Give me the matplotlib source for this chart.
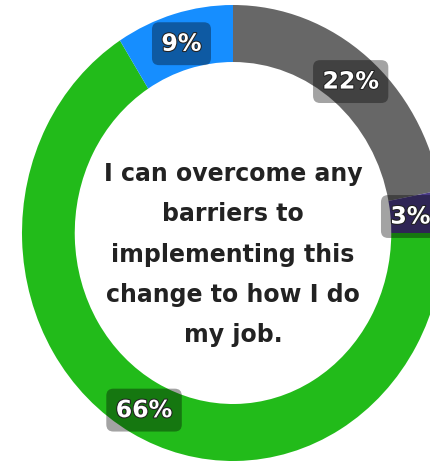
import numpy as np
import matplotlib
matplotlib.use("Agg")
import matplotlib.pyplot as plt
import matplotlib.patheffects as pe

labels = ["Strongly agree?", "Agree?", "Disagree", "Neutral"]
values = [22, 3, 66, 9]
pct_labels = ["22%", "3%", "66%", "9%"]
colors = ["#676767", "#4a3a86", "#22bb1a", "#168eff"]
center_text = "I can overcome any\nbarriers to\nimplementing this\nchange to how I do\nmy job."

W, H = 431, 464
fig = plt.figure(figsize=(W / 100, H / 100), dpi=100)
ax = fig.add_axes([22 / W, 2 / H, 422 / W, 456 / H])

wedges, _ = ax.pie(values, colors=colors, startangle=90, counterclock=False,
                   radius=1.0, wedgeprops=dict(width=0.25, edgecolor="none"))
ax.set_aspect("auto")
ax.set_xlim(-1, 1)
ax.set_ylim(-1, 1)
ax.axis("off")

total = sum(values)
cum = 0
for v, lab in zip(values, pct_labels):
    mid = cum + v / 2
    cum += v
    ang = np.deg2rad(90 - 360 * mid / total)
    r = 0.875
    x, y = r * np.cos(ang), r * np.sin(ang)
    if lab == "3%":
        x -= 0.03
    ax.text(x, y - 0.01, lab, ha="center", va="center", fontsize=17, fontweight="bold",
            color="white", family="DejaVu Sans",
            path_effects=[pe.withStroke(linewidth=1.5, foreground="#222222")],
            bbox=dict(boxstyle="round,pad=0.4,rounding_size=0.3", fc=(0, 0, 0, 0.36), ec="none"))

ax.text(0, -0.09, center_text, ha="center", va="center", fontsize=17, fontweight="bold",
        color="#222222", family="DejaVu Sans", linespacing=1.85)

fig.savefig("out.png", dpi=100)
